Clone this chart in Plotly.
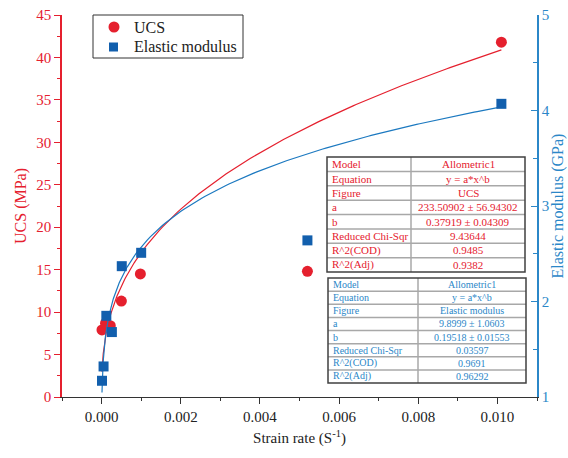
import numpy as np
import plotly.graph_objects as go

# ---- data ----
ucs_rate = [0.00001, 0.0001, 0.00022, 0.0005, 0.00098, 0.0052, 0.0101]
ucs_val = [7.9, 8.7, 8.4, 11.3, 14.5, 14.8, 41.8]
em_rate = [0.00001, 0.00005, 0.00012, 0.00026, 0.00051, 0.001, 0.0052, 0.0101]
em_val = [1.17, 1.32, 1.85, 1.68, 2.37, 2.51, 2.64, 4.07]

ucs_fit_a, ucs_fit_b = 233.50902, 0.37919
em_fit_a, em_fit_b = 9.8999, 0.19518

series_names = ["UCS", "Elastic modulus"]
table_labels = ["Model", "Equation", "Figure", "a", "b", "Reduced Chi-Sqr", "R^2(COD)", "R^2(Adj)"]
ucs_table_values = ["Allometric1", "y = a*x^b", "UCS", "233.50902 ± 56.94302", "0.37919 ± 0.04309",
                    "9.43644", "0.9485", "0.9382"]
em_table_values = ["Allometric1", "y = a*x^b", "Elastic modulus", "9.8999 ± 1.0603", "0.19518 ± 0.01553",
                   "0.03597", "0.9691", "0.96292"]

RED = "#E5202E"
BLUE_M = "#125FAD"
BLUE_AX = "#2B87C8"
BLUE_LINE = "#1C79C0"
FONT = "Liberation Serif, Times New Roman, serif"

W, H = 568, 458
L, R, T, B = 62, 31, 15, 61
PW, PH = W - L - R, H - T - B


def px(X):
    return (X - L) / PW


def py(Y):
    return (H - B - Y) / PH


xfit = np.concatenate([np.geomspace(1e-5, 1e-3, 120), np.linspace(1e-3, 0.0101, 120)[1:]])

fig = go.Figure()
fig.add_trace(go.Scatter(x=xfit, y=ucs_fit_a * xfit ** ucs_fit_b, mode="lines",
                         line=dict(color=RED, width=1.2), showlegend=False, hoverinfo="skip"))
fig.add_trace(go.Scatter(x=xfit, y=em_fit_a * xfit ** em_fit_b, mode="lines", yaxis="y2",
                         line=dict(color=BLUE_LINE, width=1.2), showlegend=False, hoverinfo="skip"))
fig.add_trace(go.Scatter(x=ucs_rate, y=ucs_val, mode="markers", name=series_names[0], showlegend=False,
                         marker=dict(symbol="circle", size=11, color=RED)))
fig.add_trace(go.Scatter(x=em_rate, y=em_val, mode="markers", name=series_names[1], yaxis="y2",
                         showlegend=False, marker=dict(symbol="square", size=10, color=BLUE_M)))

shapes = []
annotations = []

# manual legend
shapes.append(dict(type="rect", xref="paper", yref="paper", x0=px(93), x1=px(243), y0=py(15), y1=py(58),
                   line=dict(color="#333", width=1), fillcolor="white"))
shapes.append(dict(type="circle", xref="paper", yref="paper", x0=px(108.5), x1=px(119.5),
                   y0=py(21.5), y1=py(32.5), line=dict(width=0), fillcolor=RED))
shapes.append(dict(type="rect", xref="paper", yref="paper", x0=px(109), x1=px(118),
                   y0=py(42.5), y1=py(51.5), line=dict(width=0), fillcolor=BLUE_M))
for name, yc in zip(series_names, [27, 47]):
    annotations.append(dict(xref="paper", yref="paper", x=px(132), y=py(yc), text=name, showarrow=False,
                            xanchor="left", yanchor="middle", font=dict(family=FONT, size=16, color="#222")))


def add_table(x0, x1, y0, y1, xdiv, values, color, fsize):
    n = len(table_labels)
    rh = (y1 - y0) / n
    for i in range(1, n):
        yy = y0 + i * rh
        shapes.append(dict(type="line", xref="paper", yref="paper", x0=px(x0), x1=px(x1),
                           y0=py(yy), y1=py(yy), line=dict(color="#A8A8A8", width=1.5)))
    shapes.append(dict(type="line", xref="paper", yref="paper", x0=px(xdiv), x1=px(xdiv),
                       y0=py(y0), y1=py(y1), line=dict(color="#A8A8A8", width=1.5)))
    shapes.append(dict(type="rect", xref="paper", yref="paper", x0=px(x0), x1=px(x1),
                       y0=py(y0), y1=py(y1), line=dict(color="#404040", width=1.5)))
    for i, (lab, val) in enumerate(zip(table_labels, values)):
        yc = y0 + (i + 0.5) * rh
        annotations.append(dict(xref="paper", yref="paper", x=px(x0 + 3), y=py(yc), text=lab,
                                showarrow=False, xanchor="left", yanchor="middle",
                                font=dict(family=FONT, size=fsize, color=color)))
        annotations.append(dict(xref="paper", yref="paper", x=px((xdiv + x1) / 2), y=py(yc), text=val,
                                showarrow=False, xanchor="center", yanchor="middle",
                                font=dict(family=FONT, size=fsize, color=color)))


add_table(327, 525, 157, 272, 411, ucs_table_values, RED, 11)
add_table(328, 526, 278, 383, 418, em_table_values, BLUE_AX, 10)

fig.update_layout(
    width=W, height=H,
    margin=dict(l=L, r=R, t=T, b=B, autoexpand=False),
    paper_bgcolor="white", plot_bgcolor="white",
    font=dict(family=FONT, size=15, color="#222"),
    shapes=shapes, annotations=annotations,
    showlegend=False,
    xaxis=dict(range=[-0.001, 0.011], dtick=0.002, tick0=0, tickformat=".3f",
               showline=True, linecolor="#333", linewidth=1.2, ticks="outside", ticklen=6,
               tickcolor="#333", showgrid=False, zeroline=False,
               minor=dict(dtick=0.001, ticks="outside", ticklen=3, tickcolor="#333"),
               tickfont=dict(family=FONT, size=15, color="#222"),
               title=dict(text="Strain rate (S<sup>-1</sup>)", standoff=8,
                          font=dict(family=FONT, size=15, color="#222")),
               automargin=False),
    yaxis=dict(range=[0, 45], dtick=5, showline=True, linecolor=RED, linewidth=1.5,
               ticks="outside", ticklen=6, tickcolor=RED, showgrid=False, zeroline=False,
               minor=dict(dtick=2.5, ticks="outside", ticklen=3, tickcolor=RED),
               tickfont=dict(family=FONT, size=15, color=RED),
               title=dict(text="UCS (MPa)", standoff=6, font=dict(family=FONT, size=16, color=RED)),
               automargin=False),
    yaxis2=dict(range=[1, 5], dtick=1, overlaying="y", side="right", showline=True,
                linecolor=BLUE_AX, linewidth=1.5, ticks="inside", ticklen=6, tickcolor=BLUE_AX,
                showgrid=False, zeroline=False,
                minor=dict(dtick=0.5, ticks="inside", ticklen=4, tickcolor=BLUE_AX),
                tickfont=dict(family=FONT, size=15, color=BLUE_AX),
                title=dict(text="Elastic modulus (GPa)", standoff=2,
                           font=dict(family=FONT, size=16, color=BLUE_AX)),
                automargin=False),
)

fig.write_html("out.html")
